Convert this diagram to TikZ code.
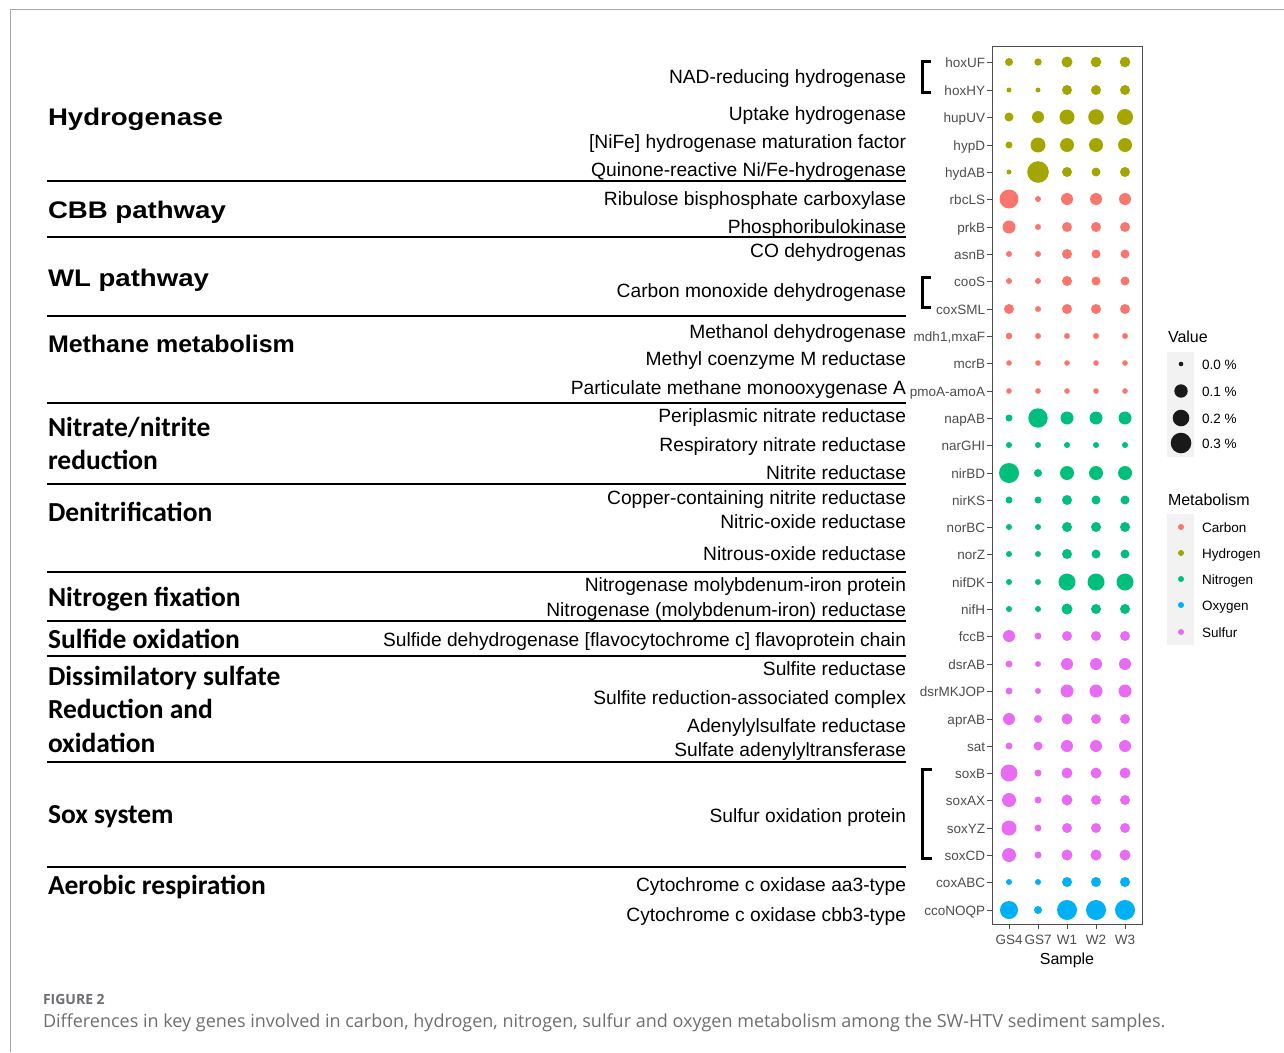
\documentclass[tikz,border=0pt]{standalone}
\usepackage{fontspec}
\usepackage{graphicx}
\setmainfont{Liberation Sans}
\newfontfamily\carl{Carlito}
\newfontfamily\capfont{Open Sans}
\usetikzlibrary{positioning}
\definecolor{carbon}{HTML}{F8766D}
\definecolor{hydrogen}{HTML}{A3A500}
\definecolor{nitrogen}{HTML}{00BF7D}
\definecolor{oxygen}{HTML}{00B0F6}
\definecolor{sulfur}{HTML}{E76BF3}
\definecolor{axisgray}{HTML}{4D4D4D}
\definecolor{keygray}{HTML}{F2F2F2}
\definecolor{capgray}{HTML}{6D6E71}

\begin{document}
\begin{tikzpicture}[x=1pt,y=-1pt,every node/.style={inner sep=0pt,outer sep=0pt},
  group/.style={anchor=mid west,yshift=-6pt,font=\fontsize{24}{24}\selectfont\bfseries},
  cgroup/.style={anchor=mid west,yshift=-6pt,font=\fontsize{27.5}{27.5}\selectfont\carl\bfseries},
  enzyme/.style={anchor=mid east,yshift=-5pt,font=\fontsize{19.2}{19.2}\selectfont},
  gene/.style={anchor=mid east,yshift=-3pt,text=axisgray,font=\fontsize{13.5}{13.5}\selectfont},
  keytext/.style={anchor=mid west,yshift=-3pt,font=\fontsize{13.5}{13.5}\selectfont},
  keytitle/.style={anchor=mid west,yshift=-4pt,font=\fontsize{16}{16}\selectfont},
  sepline/.style={line width=2pt},
  bracket/.style={line width=3pt}]
\useasboundingbox (0,0) rectangle (1284,1052);
\draw[gray!70,line width=1pt] (10,1052) -- (10,9) -- (1284,9);

\node[group] (hyd) at (48,117) {\scalebox{1.15}[1]{Hydrogenase}};
\node[group] (cbb) at (48,210) {\scalebox{1.15}[1]{CBB pathway}};
\node[group] (wl) at (48,278) {\scalebox{1.15}[1]{WL pathway}};
\node[group] (methane) at (48,344) {\scalebox{1.04}[1]{Methane metabolism}};
\node[cgroup] (nitrate) at (48,428) {Nitrate/nitrite};
\node[cgroup] (nitrate2) at (48,461) {reduction};
\node[cgroup] (denit) at (48,513) {Denitrification};
\node[cgroup] (nfix) at (48,598) {Nitrogen fixation};
\node[cgroup] (sulfide) at (48,640) {Sulfide oxidation};
\node[cgroup] (dissim) at (48,677) {Dissimilatory sulfate};
\node[cgroup] (dissim2) at (48,710) {Reduction and};
\node[cgroup] (dissim3) at (48,744) {oxidation};
\node[cgroup] (sox) at (48,815) {Sox system};
\node[cgroup] (aerobic) at (48,886) {Aerobic respiration};

\foreach \y in {181,237,316,403,484,572,621,656,762,867}
  \draw[sepline] (47,\y) -- (906,\y);

\foreach \t/\y [count=\n] in {NAD-reducing hydrogenase/76,Uptake hydrogenase/113,{[NiFe] hydrogenase maturation factor}/141,
  {Quinone-reactive Ni/Fe-hydrogenase}/169,Ribulose bisphosphate carboxylase/198,Phosphoribulokinase/226,
  CO dehydrogenas/250,Carbon monoxide dehydrogenase/290,Methanol dehydrogenase/331,Methyl coenzyme M reductase/358,
  Particulate methane monooxygenase A/387,Periplasmic nitrate reductase/415,Respiratory nitrate reductase/444,
  Nitrite reductase/472,Copper-containing nitrite reductase/497,Nitric-oxide reductase/521,Nitrous-oxide reductase/553,
  Nitrogenase molybdenum-iron protein/584,Nitrogenase (molybdenum-iron) reductase/609,
  Sulfide dehydrogenase [flavocytochrome c] flavoprotein chain/639,Sulfite reductase/668,
  Sulfite reduction-associated complex/697,Adenylylsulfate reductase/725,Sulfate adenylyltransferase/749,
  Sulfur oxidation protein/815,Cytochrome c oxidase aa3-type/884,Cytochrome c oxidase cbb3-type/914}
  \node[enzyme] (e\n) at (906,\y) {\t};

\draw[bracket] (931,61) -- (922,61) -- (922,92) -- (931,92);
\draw[bracket] (931,277) -- (922,277) -- (922,307) -- (931,307);
\draw[bracket] (932,769) -- (922,769) -- (922,858) -- (932,858);

\draw[axisgray,line width=1pt] (992,46) rectangle (1142,924);

\foreach \g/\y/\ra/\rb/\rc/\rd/\re/\c [count=\n] in {
  hoxUF/62/4/3.7/5.5/5.3/5.3/hydrogen, hoxHY/90/2.5/2.5/5/5/5/hydrogen,
  hupUV/117/4.5/6/7.5/7.8/8/hydrogen, hypD/145/3.5/7.5/7/7/7/hydrogen,
  hydAB/172/2.5/10.8/5/4.5/5/hydrogen,
  rbcLS/199/9.5/3/6/6/6/carbon, prkB/227/6.5/3/5/5/5/carbon,
  asnB/254/3/3/5/4.5/4.5/carbon, cooS/281/3/3/5/4.5/4.5/carbon,
  coxSML/309/5/3/5/5/5/carbon, {mdh1,mxaF}/336/3.3/3/3/3/3/carbon,
  mcrB/363/2.8/2.8/2.8/2.8/2.8/carbon, pmoA-amoA/391/2.8/2.8/2.8/2.8/2.8/carbon,
  napAB/418/3.5/9.7/6.5/6.5/6.5/nitrogen, narGHI/445/3/3/3/3/3/nitrogen,
  nirBD/473/10/4/7/7/7/nitrogen, nirKS/500/3.5/3.5/5/4.5/4.5/nitrogen,
  norBC/527/3/3/5/5/5/nitrogen, norZ/554/3/3/5/4.5/4.5/nitrogen,
  nifDK/582/3/3/8.5/8.5/8.5/nitrogen, nifH/609/3/3/5.5/5/5/nitrogen,
  fccB/636/6/3.5/5/5/5/sulfur, dsrAB/664/3.5/3/6/6/6/sulfur,
  dsrMKJOP/691/3.5/3/6.5/6.5/6.5/sulfur, aprAB/719/6/4/5.5/5/5/sulfur,
  sat/746/3.5/4.5/6/6/6/sulfur, soxB/773/8.5/3.5/5.5/5.5/5.5/sulfur,
  soxAX/800/7/3.5/5.5/5/5/sulfur, soxYZ/828/7.5/3.5/5/5/5/sulfur,
  soxCD/855/7/3.5/5.5/5.5/5.5/sulfur,
  coxABC/882/3/3/5/5/5/oxygen, ccoNOQP/910/9/4/10/10/10/oxygen}
{
  \node[gene] (g\n) at (985,\y) {\g};
  \draw[axisgray,line width=1pt] (987,\y) -- (992,\y);
  \foreach \x/\r in {1009/\ra,1038/\rb,1067/\rc,1096/\rd,1125/\re}
    \fill[\c] (\x,\y) circle[radius=\r pt];
}

\foreach \s/\x in {GS4/1009,GS7/1038,W1/1067,W2/1096,W3/1125}{
  \draw[axisgray,line width=1pt] (\x,924) -- (\x,929);
  \node[text=axisgray,font=\fontsize{13.5}{13.5}\selectfont,anchor=mid,yshift=-3pt] (s-\s) at (\x,939) {\s};
}
\node[font=\fontsize{16}{16}\selectfont,anchor=mid,yshift=-4pt] (sample) at (1067,958) {Sample};

\node[keytitle] (valtitle) at (1168,336) {Value};
\fill[keygray] (1167,352) rectangle (1194,457);
\foreach \y/\r/\t [count=\n] in {364/2.3/0.0,391/6.7/0.1,418/8.3/0.2,443/10.3/0.3}{
  \fill[black!90] (1181,\y) circle[radius=\r pt];
  \node[keytext] (v\n) at (1202,\y) {\t{} \%};
}
\node[keytitle] (mettitle) at (1168,499) {Metabolism};
\fill[keygray] (1167,514) rectangle (1194,645);
\foreach \y/\c/\t [count=\n] in {527/carbon/Carbon,553/hydrogen/Hydrogen,579/nitrogen/Nitrogen,605/oxygen/Oxygen,632/sulfur/Sulfur}{
  \fill[\c] (1181,\y) circle[radius=3pt];
  \node[keytext] (m\n) at (1202,\y) {\t};
}

\node[anchor=mid west,yshift=-4pt,text=capgray,font=\fontsize{14}{14}\selectfont\capfont\bfseries] (fig) at (43,998) {FIGURE 2};
\node[anchor=mid west,yshift=-4pt,text=capgray,font=\fontsize{18}{18}\selectfont\capfont] (caption) at (43,1021)
  {Differences in key genes involved in carbon, hydrogen, nitrogen, sulfur and oxygen metabolism among the SW-HTV sediment samples.};
\end{tikzpicture}
\end{document}
